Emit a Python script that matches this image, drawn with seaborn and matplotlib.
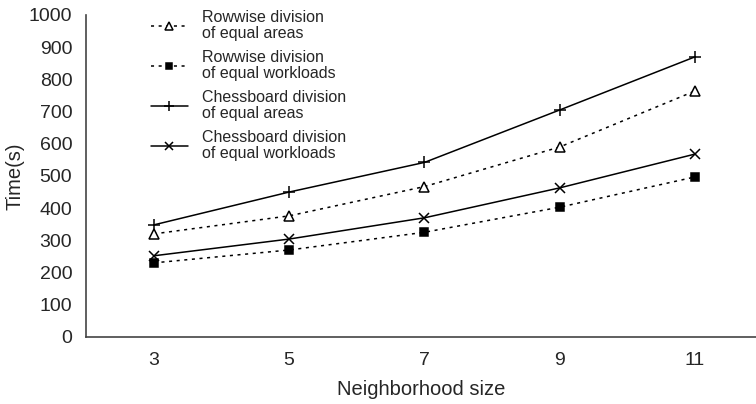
import pandas as pd
import seaborn as sns
import matplotlib.pyplot as plt

sizes = ['3', '5', '7', '9', '11']
row_areas = [320, 376, 467, 590, 764]
row_work = [230, 270, 325, 403, 497]
chess_areas = [348, 450, 542, 705, 870]
chess_work = [252, 304, 370, 463, 568]

labels = ['Rowwise division\nof equal areas',
          'Rowwise division\nof equal workloads',
          'Chessboard division\nof equal areas',
          'Chessboard division\nof equal workloads']

sns.set_style('white')
plt.rcParams['font.family'] = ['Liberation Sans', 'DejaVu Sans']

fig = plt.figure(figsize=(7.56, 4.04), dpi=100)
ax = fig.add_axes([0.114, 0.166, 0.886, 0.797])

pos = list(range(len(sizes)))
dot = (0, (2, 3))
series = [
    (row_areas, '^', dot, 'white', 7),
    (row_work, 's', dot, 'black', 6),
    (chess_areas, '+', '-', 'black', 9),
    (chess_work, 'x', '-', 'black', 7),
]
for (vals, m, ls, fc, ms), lab in zip(series, labels):
    df = pd.DataFrame({'pos': pos, 'time': vals})
    sns.lineplot(data=df, x='pos', y='time', ax=ax, color='black',
                 marker=m, linestyle=ls, linewidth=1.1, markersize=ms,
                 markerfacecolor=fc, markeredgecolor='black',
                 markeredgewidth=1.1, label=lab)

ax.set_xlim(-0.5, 4.45)
ax.set_ylim(0, 1000)
ax.set_yticks(range(0, 1001, 100))
ax.set_xticks(pos)
ax.set_xticklabels(sizes)
ax.set_xticks([p + 0.5 for p in pos[:-1]], minor=True)
ax.tick_params(axis='x', which='major', length=0, pad=11, labelsize=14)
ax.tick_params(axis='x', which='minor', direction='in', length=4,
               color='#bbbbbb', width=0.8)
ax.tick_params(axis='y', direction='in', length=4, color='#bbbbbb',
               width=0.8, labelsize=14, pad=10)
for s in ['top', 'right']:
    ax.spines[s].set_visible(False)
for s in ['left', 'bottom']:
    ax.spines[s].set_color('#444444')
    ax.spines[s].set_linewidth(1.2)

ax.set_xlabel('Neighborhood size', fontsize=14.5, labelpad=8)
ax.set_ylabel('Time(s)', fontsize=14.5, labelpad=3)

leg = ax.legend(loc='upper left', bbox_to_anchor=(0.087, 1.035), frameon=False,
                fontsize=11.5, handlelength=2.3, labelspacing=0.55,
                handletextpad=0.9, borderaxespad=0, markerscale=0.75)
for t in leg.get_texts():
    t.set_linespacing(1.1)

fig.savefig('out.png', dpi=100)
